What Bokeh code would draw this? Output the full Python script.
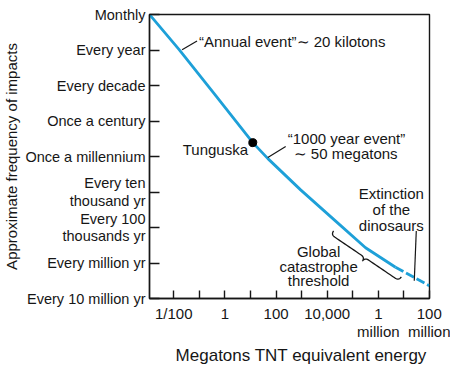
import numpy as np
from bokeh.plotting import figure
from bokeh.models import Range1d, FixedTicker, Label
from bokeh.embed import file_html
from bokeh.resources import INLINE

# ---- data ----
energy_mt = [0.00112, 0.0162, 0.407, 12.3, 47.9, 912, 21400, 316000, 4.68e6, 9.77e7]
freq_level = [8.0, 7.01, 5.74, 4.39, 3.94, 3.06, 2.18, 1.43, 0.88, 0.36]
n_solid = 9  # points drawn solid; the last segment is dashed

tunguska_energy = [12.3]
tunguska_level = [4.39]

y_tick_levels = [0, 1, 2, 3, 4, 5, 6, 7, 8]
y_tick_labels = ["Every 10 million yr", "Every million yr", "Every 100\nthousands yr",
                 "Every ten\nthousand yr", "Once a millennium", "Once a century",
                 "Every decade", "Every year", "Monthly"]
x_tick_values = [1e-2, 1e-1, 1.0, 10.0, 100.0, 1e3, 1e4, 1e5, 1e6, 1e7, 1e8]
x_tick_labels = ["1/100", "", "1", "", "100", "", "10,000", "", "1\nmillion", "", "100\nmillion"]

x_title = "Megatons TNT equivalent energy"
y_title = "Approximate frequency of impacts"

# annotation anchors (energy, level)
annual_text = ("\u201cAnnual event\u201d\u223c 20 kilotons", 0.097, 7.23)
annual_leader = ([0.0211, 0.0811], [7.007, 7.255])
tung_text = ("Tunguska", 8.02, 4.19)
event_lines = [("\u201c1000 year event\u201d", 285.0, 4.52), ("\u223c 50 megatons", 489.0, 4.08)]
event_leader = ([47.4, 238.0], [3.97, 4.28])
ext_lines = [("Extinction", 3.22e6, 2.95), ("of the", 3.22e6, 2.51), ("dinosaurs", 3.22e6, 2.07)]
ext_pointer = ([3.04e7, 2.54e7], [1.90, 0.50])
glob_lines = [("Global", 4600.0, 1.32), ("catastrophe", 4600.0, 0.91), ("threshold", 4600.0, 0.50)]
brace_start = (17700.0, 1.903)
brace_end = (7.9e6, 0.607)

FONT = "Liberation Sans"
INK = "#161616"
BLUE = "#1ea0d8"

W, H = 450, 368
p = figure(width=W, height=H, x_axis_type="log",
           x_range=Range1d(10 ** -2.95, 1e8), y_range=Range1d(0, 8),
           output_backend="svg", toolbar_location=None,
           min_border_left=148, min_border_right=W - 429, min_border_top=14,
           min_border_bottom=H - 304)
p.grid.visible = False
p.outline_line_color = INK
p.outline_line_width = 1.4
p.background_fill_color = "white"
p.border_fill_color = "white"

for ax in (p.xaxis[0], p.yaxis[0]):
    ax.axis_line_color = INK
    ax.axis_line_width = 1.4
    ax.major_tick_line_color = INK
    ax.major_tick_line_width = 1.4
    ax.major_tick_out = 0
    ax.minor_tick_line_color = None
    ax.major_label_text_font = FONT
    ax.major_label_text_color = INK
    ax.major_label_text_line_height = 1.1
    ax.axis_label_text_font = FONT
    ax.axis_label_text_font_style = "normal"
    ax.axis_label_text_color = INK

p.xaxis.ticker = FixedTicker(ticks=x_tick_values)
p.xaxis.major_label_overrides = {v: l for v, l in zip(x_tick_values, x_tick_labels)}
p.xaxis.major_label_text_font_size = "15px"
p.xaxis.major_tick_in = 8
p.xaxis.major_label_standoff = 6
p.xaxis.axis_label = "\u00a0" * 5 + x_title
p.xaxis.axis_label_text_font_size = "17px"
p.xaxis.axis_label_standoff = 3

p.yaxis.ticker = FixedTicker(ticks=y_tick_levels)
p.yaxis.major_label_overrides = {v: l for v, l in zip(y_tick_levels, y_tick_labels)}
p.yaxis.major_label_text_font_size = "14.5px"
p.yaxis.major_tick_in = 10
p.yaxis.major_label_standoff = 4
p.yaxis.axis_label = y_title
p.yaxis.axis_label_text_font_size = "15px"
p.yaxis.axis_label_standoff = 2

# curve
p.line(energy_mt[:n_solid], freq_level[:n_solid], line_color=BLUE, line_width=2.8)
p.line(energy_mt[n_solid - 1:], freq_level[n_solid - 1:], line_color=BLUE, line_width=2.8,
       line_dash="9 3")
p.scatter(tunguska_energy, tunguska_level, size=8, color="black")

# leader lines
for xs, ys in (annual_leader, event_leader, ext_pointer):
    p.line(xs, ys, line_color=INK, line_width=1.2)

# brace (shape built in pixel-like space)
kx, ky = 25.66, 36.25
S = np.array([np.log10(brace_start[0]) * kx, brace_start[1] * ky])
E = np.array([np.log10(brace_end[0]) * kx, brace_end[1] * ky])
L = np.linalg.norm(E - S)
u = (E - S) / L
nrm = np.array([u[1], -u[0]])
h = 9.0


def quad(p0, c, p1, n=12):
    t = np.linspace(0, 1, n)[:, None]
    return (1 - t) ** 2 * np.array(p0) + 2 * (1 - t) * t * np.array(c) + t ** 2 * np.array(p1)


segs = [
    quad((0, 0), (0, h / 2), (h / 2, h / 2)),
    quad((h / 2, h / 2), (L / 4, h / 2), (L / 2 - h / 2, h / 2)),
    quad((L / 2 - h / 2, h / 2), (L / 2, h / 2), (L / 2, h)),
    quad((L / 2, h), (L / 2, h / 2), (L / 2 + h / 2, h / 2)),
    quad((L / 2 + h / 2, h / 2), (3 * L / 4, h / 2), (L - h / 2, h / 2)),
    quad((L - h / 2, h / 2), (L, h / 2), (L, 0)),
]
ao = np.vstack(segs)
XY = S[None, :] + ao[:, :1] * u[None, :] + ao[:, 1:] * nrm[None, :]
p.line(10 ** (XY[:, 0] / kx), XY[:, 1] / ky, line_color=INK, line_width=1.3)


def lab(text, x, y, align="left", size="15px"):
    p.add_layout(Label(x=x, y=y, text=text, text_align=align, text_baseline="middle",
                       text_font=FONT, text_font_size=size, text_color=INK))


lab(annual_text[0], annual_text[1], annual_text[2])
lab(tung_text[0], tung_text[1], tung_text[2], align="right")
for t, x, y in event_lines:
    lab(t, x, y)
for t, x, y in ext_lines:
    lab(t, x, y, align="center")
for t, x, y in glob_lines:
    lab(t, x, y, align="center")

open("out.html", "w").write(file_html(p, INLINE))
